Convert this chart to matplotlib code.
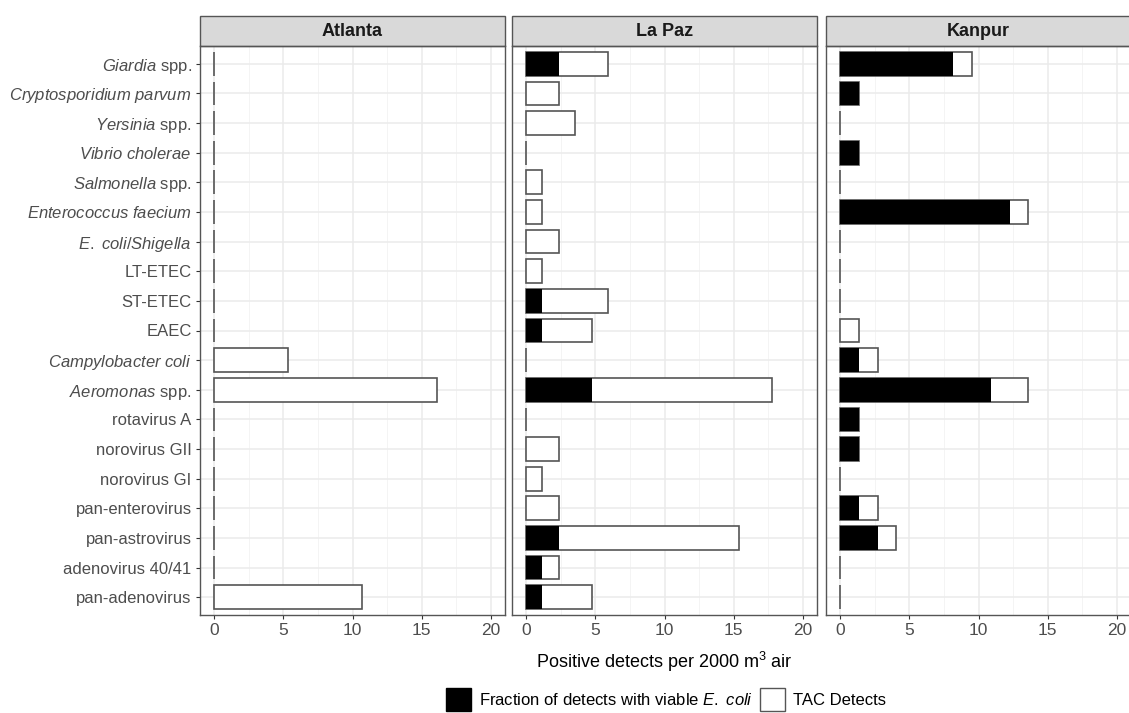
import numpy as np
import matplotlib
matplotlib.use("Agg")
import matplotlib.pyplot as plt
from matplotlib.patches import Patch, Rectangle

plt.rcParams['font.family'] = ['Liberation Sans', 'DejaVu Sans']
plt.rcParams['mathtext.fontset'] = 'custom'
plt.rcParams['mathtext.rm'] = 'Liberation Sans'
plt.rcParams['mathtext.it'] = 'Liberation Sans:italic'

# categories, top to bottom
categories = [r"$\it{Giardia}$ spp.", r"$\it{Cryptosporidium\ parvum}$", r"$\it{Yersinia}$ spp.",
              r"$\it{Vibrio\ cholerae}$", r"$\it{Salmonella}$ spp.", r"$\it{Enterococcus\ faecium}$",
              r"$\it{E.\ coli/Shigella}$", "LT-ETEC", "ST-ETEC", "EAEC",
              r"$\it{Campylobacter\ coli}$", r"$\it{Aeromonas}$ spp.", "rotavirus A",
              "norovirus GII", "norovirus GI", "pan-enterovirus", "pan-astrovirus",
              "adenovirus 40/41", "pan-adenovirus"]

sites = ["Atlanta", "La Paz", "Kanpur"]

atlanta_tac = [0, 0, 0, 0, 0, 0, 0, 0, 0, 0, 5.36, 16.07, 0, 0, 0, 0, 0, 0, 10.72]
atlanta_viable = [0] * 19

lapaz_tac = [5.93, 2.37, 3.56, 0, 1.19, 1.19, 2.37, 1.19, 5.93, 4.74, 0, 17.75, 0, 2.37, 1.19, 2.37, 15.35, 2.37, 4.74]
lapaz_viable = [2.37, 0, 0, 0, 0, 0, 0, 0, 1.19, 1.19, 0, 4.74, 0, 0, 0, 0, 2.37, 1.19, 1.19]

kanpur_tac = [9.53, 1.36, 0, 1.36, 0, 13.6, 0, 0, 0, 1.36, 2.72, 13.6, 1.36, 1.36, 0, 2.72, 4.08, 0, 0]
kanpur_viable = [8.17, 1.36, 0, 1.36, 0, 12.25, 0, 0, 0, 0, 1.36, 10.88, 1.36, 1.36, 0, 1.36, 2.72, 0, 0]

tac_all = [atlanta_tac, lapaz_tac, kanpur_tac]
viable_all = [atlanta_viable, lapaz_viable, kanpur_viable]

W, H = 1129, 713
fig = plt.figure(figsize=(W / 100, H / 100), dpi=100)

lefts = [200, 512, 826]
pw = 305
top, bottom = 46, 615
strip_h = 30
edge = '#555555'
y = np.arange(len(categories))

for i, site in enumerate(sites):
    ax = fig.add_axes([lefts[i] / W, 1 - bottom / H, pw / W, (bottom - top) / H])
    ax.barh(y, tac_all[i], height=0.8, color='white', edgecolor=edge, linewidth=1.2, zorder=3)
    ax.barh(y, viable_all[i], height=0.8, color='black', linewidth=0, zorder=4)
    ax.set_xlim(-1, 21)
    ax.set_ylim(len(categories) - 0.4, -0.6)
    ax.set_xticks([0, 5, 10, 15, 20])
    ax.set_xticks([2.5, 7.5, 12.5, 17.5], minor=True)
    ax.set_yticks(y)
    ax.grid(which='major', color='#EBEBEB', linewidth=1.1, zorder=0)
    ax.grid(which='minor', axis='x', color='#F2F2F2', linewidth=0.6, zorder=0)
    ax.set_axisbelow(True)
    for s in ax.spines.values():
        s.set_color(edge)
        s.set_linewidth(1.0)
    ax.tick_params(axis='x', which='minor', length=0)
    ax.tick_params(axis='both', which='major', length=3, color='#333333', labelsize=12.5,
                   labelcolor='#4D4D4D', pad=3)
    if i == 0:
        ax.set_yticklabels(categories, fontsize=12)
    else:
        ax.tick_params(axis='y', length=0, labelleft=False)
    if i == 1:
        ax.set_xlabel(r"Positive detects per 2000 m$^3$ air", fontsize=13, labelpad=8)
    # facet strip
    frac = strip_h / (bottom - top)
    ax.add_patch(Rectangle((0, 1), 1, frac, transform=ax.transAxes, facecolor='#D9D9D9',
                           edgecolor=edge, linewidth=1.0, clip_on=False))
    ax.text(0.5, 1 + frac / 2, site, transform=ax.transAxes, ha='center', va='center',
            fontsize=13, fontweight='bold', color='#1A1A1A')

handles = [Patch(facecolor='black', edgecolor='black', label=r"Fraction of detects with viable $\it{E.\ coli}$"),
           Patch(facecolor='white', edgecolor=edge, label="TAC Detects")]
fig.legend(handles=handles, loc='lower center', bbox_to_anchor=(0.59, -0.018), ncol=2,
           frameon=False, fontsize=12, handlelength=1.5, handleheight=1.7,
           columnspacing=0.4, handletextpad=0.5)

fig.savefig("out.png", dpi=100)
